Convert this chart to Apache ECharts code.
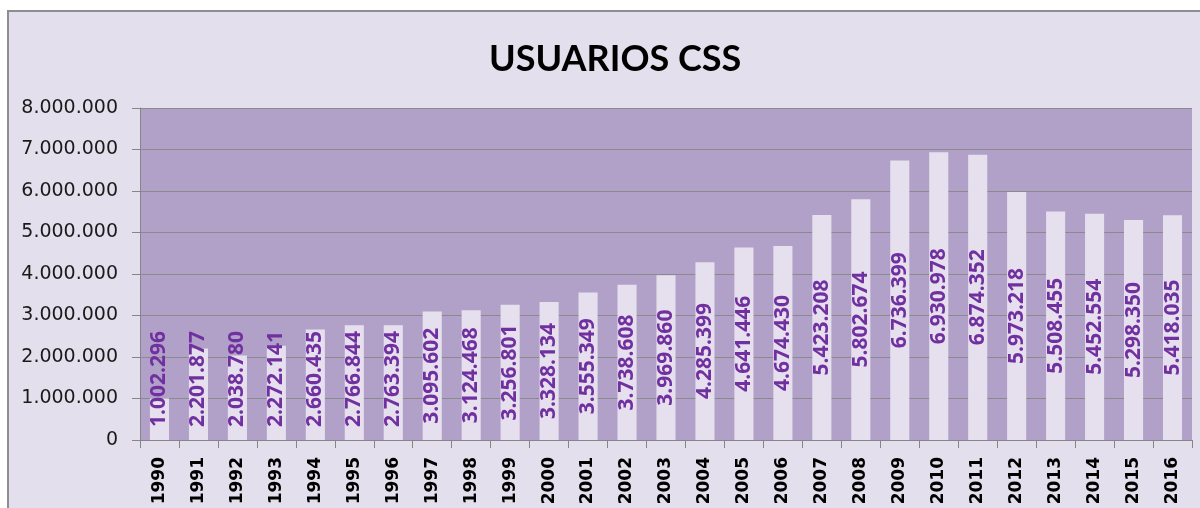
<!DOCTYPE html>
<html>
<head>
<meta charset="utf-8">
<script src="https://cdn.jsdelivr.net/npm/echarts@6/dist/echarts.min.js"></script>
<style>
    html, body { margin: 0; padding: 0; background: #ffffff; }
    #wrap { position: relative; width: 1200px; height: 508px; overflow: hidden; }
    #chart { position: absolute; left: 7px; top: 10px; width: 1193px; height: 498px;
             border-top: 2px solid #8e8e8e; border-left: 2px solid #8e8e8e; background: #e4dfec; }
</style>
</head>
<body>
<div id="wrap"><div id="chart"></div></div>
<script>
// datos
var years = ['1990', '1991', '1992', '1993', '1994', '1995', '1996', '1997', '1998',
    '1999', '2000', '2001', '2002', '2003', '2004', '2005', '2006', '2007', '2008',
    '2009', '2010', '2011', '2012', '2013', '2014', '2015', '2016'];
var usuarios = [1002296, 2201877, 2038780, 2272141, 2660435, 2766844, 2763394, 3095602,
    3124468, 3256801, 3328134, 3555349, 3738608, 3969860, 4285399, 4641446, 4674430,
    5423208, 5802674, 6736399, 6930978, 6874352, 5973218, 5508455, 5452554, 5298350, 5418035];
var yMin = 0, yMax = 8000000, yStep = 1000000;

function puntos(v) {
    return String(v).replace(/\B(?=(\d{3})+(?!\d))/g, '.');
}

var chart = echarts.init(document.getElementById('chart'));

// etiquetas de barras bajas van pegadas al fondo
var barData = usuarios.map(function (v) {
    if (v < 3000000) {
        return {
            value: v,
            label: { position: 'insideBottom', distance: 13, align: 'left', verticalAlign: 'middle' }
        };
    }
    return v;
});

var option = {
    animation: false,
    title: {
        text: 'USUARIOS CSS',
        left: 475,
        top: 24,
        textStyle: { fontFamily: 'Lato', fontWeight: 'bold', fontSize: 36, color: '#000' }
    },
    grid: {
        left: 131,
        right: 10,
        top: 96,
        bottom: 70,
        show: true,
        backgroundColor: '#b1a0c7',
        borderWidth: 0,
        containLabel: false
    },
    xAxis: {
        type: 'category',
        data: years,
        axisLine: { lineStyle: { color: '#868686', width: 1 } },
        axisTick: { show: true, length: 8, alignWithLabel: false, lineStyle: { color: '#868686' } },
        axisLabel: {
            rotate: 90,
            margin: 17,
            interval: 0,
            color: '#000',
            fontFamily: 'DejaVu Sans',
            fontWeight: 'bold',
            fontSize: 17
        },
        splitLine: { show: false }
    },
    yAxis: {
        type: 'value',
        min: yMin,
        max: yMax,
        interval: yStep,
        axisLine: { show: true, lineStyle: { color: '#868686', width: 1 } },
        axisTick: { show: true, length: 8, lineStyle: { color: '#868686' } },
        axisLabel: {
            margin: 22,
            color: '#1a1a1a',
            fontFamily: 'DejaVu Sans',
            fontSize: 19,
            formatter: function (v) { return puntos(v); }
        },
        splitLine: { show: true, lineStyle: { color: '#8a8a8a', width: 1 } }
    },
    series: [
        {
            name: 'Usuarios',
            type: 'bar',
            data: barData,
            barCategoryGap: '51%',
            itemStyle: { color: '#e6e0ee' },
            label: {
                show: true,
                position: 'inside',
                rotate: 90,
                color: '#7030a0',
                fontFamily: 'Open Sans',
                fontWeight: 'bold',
                fontSize: 21,
                formatter: function (p) { return puntos(p.value); }
            }
        }
    ]
};
chart.setOption(option);
</script>
</body>
</html>
